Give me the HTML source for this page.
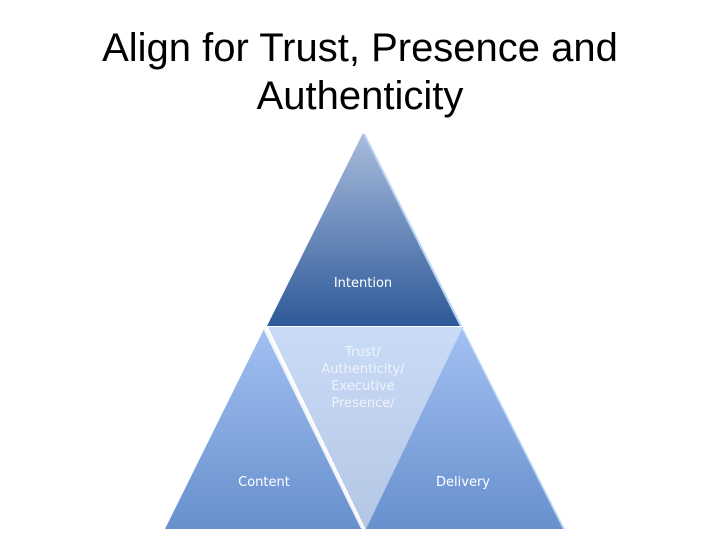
<!DOCTYPE html>
<html><head><style>
body{margin:0;width:720px;height:540px;background:#fff;overflow:hidden;font-family:"Liberation Sans",sans-serif}
h1{position:absolute;top:24px;left:0;width:720px;margin:0;text-align:center;font-weight:normal;font-size:40px;line-height:48px;color:#000}
</style></head><body>
<h1>Align for Trust, Presence and<br>Authenticity</h1>
<svg width="720" height="540" style="position:absolute;left:0;top:0">
<defs>
<linearGradient id="t" x1="0" y1="0" x2="0" y2="1"><stop offset="0" stop-color="#a9bcdc"/><stop offset="1" stop-color="#2e5a99"/></linearGradient>
<linearGradient id="s" x1="0" y1="0" x2="0" y2="1"><stop offset="0" stop-color="#a2c0f2"/><stop offset="1" stop-color="#6790cd"/></linearGradient>
<linearGradient id="m" x1="0" y1="0" x2="0" y2="1"><stop offset="0" stop-color="#cadbf7"/><stop offset="1" stop-color="#b3c6e4"/></linearGradient>
</defs>
<polygon points="363,133 460,326 267,326" fill="url(#t)"/>
<line x1="364" y1="134" x2="461" y2="326" stroke="#b8d4f2" stroke-width="2"/>
<polygon points="268,327 464,327 366,530" fill="url(#m)"/>
<polygon points="462,329 563,529 366,529" fill="url(#s)"/>
<line x1="463" y1="330" x2="564" y2="529" stroke="#b8d4f2" stroke-width="1.5"/>
<polygon points="264,329 362,529 165,529" fill="url(#s)"/>
<line x1="265" y1="330" x2="362" y2="528" stroke="#f2f4f8" stroke-width="2.5"/>
<g font-family="'DejaVu Sans',sans-serif" font-size="13" fill="#fff" text-anchor="middle">
<text x="363" y="287">Intention</text>
<text x="264" y="486">Content</text>
<text x="463" y="486">Delivery</text>
<g fill="#eef3fb"><text x="363" y="356">Trust/</text><text x="363" y="373">Authenticity/</text><text x="363" y="390">Executive</text><text x="363" y="407">Presence/</text></g>
</g>
</svg>
</body></html>
